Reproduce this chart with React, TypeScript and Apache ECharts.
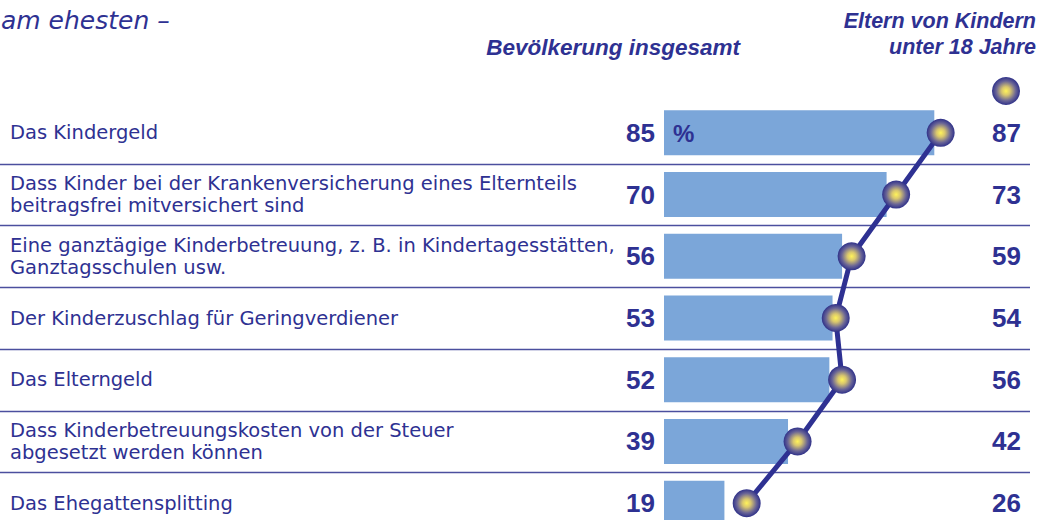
import React, { useEffect, useRef } from "react";
import * as echarts from "echarts";

const categories = [
  "Das Kindergeld",
  "Dass Kinder bei der Krankenversicherung eines Elternteils\nbeitragsfrei mitversichert sind",
  "Eine ganztägige Kinderbetreuung, z. B. in Kindertagesstätten,\nGanztagsschulen usw.",
  "Der Kinderzuschlag für Geringverdiener",
  "Das Elterngeld",
  "Dass Kinderbetreuungskosten von der Steuer\nabgesetzt werden können",
  "Das Ehegattensplitting",
];
const populationValues = [85, 70, 56, 53, 52, 39, 19];
const parentValues = [87, 73, 59, 54, 56, 42, 26];

const headerTotal = "Bevölkerung insgesamt";
const headerParents1 = "Eltern von Kindern";
const headerParents2 = "unter 18 Jahre";
const introText = "am ehesten –";

const NAVY = "#2e3192";
const BAR = "#7ba6d9";
const FONT = "DejaVu Sans";
const NUMFONT = "Liberation Sans";

const GRID_TOP = 102;
const GRID_HEIGHT = 432;
const GRID_LEFT = 664;
const GRID_WIDTH = 318;

function ball() {
  return new echarts.graphic.RadialGradient(0.5, 0.5, 0.5, [
    { offset: 0, color: "#fff35a" },
    { offset: 0.3, color: "#d8c66e" },
    { offset: 0.7, color: "#6a6596" },
    { offset: 1, color: "#2f3189" },
  ]);
}

export default function App() {
  const ref = useRef<HTMLDivElement>(null);
  useEffect(() => {
    if (!ref.current) return;
    document.documentElement.style.overflow = "hidden";
    document.body.style.overflow = "hidden";
    const chart = echarts.init(ref.current, null, { renderer: "svg" });
    const step = GRID_HEIGHT / categories.length;
    const separators: any[] = [];
    for (let k = 1; k < categories.length; k++) {
      const y = Math.round(GRID_TOP + step * k) + 0.5;
      separators.push({
        type: "line",
        shape: { x1: 0, y1: y, x2: 1030, y2: y },
        style: { stroke: "#4b4f9e", lineWidth: 1.3 },
        z: 1,
      });
    }
    chart.setOption({
      animation: false,
      grid: {
        left: GRID_LEFT,
        top: GRID_TOP,
        width: GRID_WIDTH,
        height: GRID_HEIGHT,
        containLabel: false,
        outerBoundsMode: "none",
      },
      xAxis: { type: "value", min: 0, max: 100, show: false },
      yAxis: [
        {
          type: "category",
          data: categories,
          inverse: true,
          axisLine: { show: false },
          axisTick: { show: false },
          splitLine: { show: false },
          axisLabel: {
            align: "left",
            margin: GRID_LEFT - 10,
            fontSize: 19.5,
            lineHeight: 22,
            padding: [8, 0, 0, 0],
            overflow: "none",
            color: NAVY,
            fontFamily: FONT,
          },
        },
        {
          type: "category",
          data: parentValues.map(String),
          inverse: true,
          position: "right",
          axisLine: { show: false },
          axisTick: { show: false },
          splitLine: { show: false },
          axisLabel: {
            align: "right",
            margin: 39,
            fontSize: 26,
            fontWeight: "bold",
            color: NAVY,
            fontFamily: NUMFONT,
          },
        },
      ],
      series: [
        {
          type: "bar",
          data: populationValues,
          yAxisIndex: 0,
          barWidth: 45,
          itemStyle: { color: BAR },
          label: {
            show: true,
            position: "left",
            distance: 9,
            fontSize: 26,
            fontWeight: "bold",
            color: NAVY,
            fontFamily: NUMFONT,
          },
          z: 2,
        },
        {
          type: "line",
          data: parentValues,
          yAxisIndex: 0,
          symbol: "circle",
          symbolSize: 28,
          lineStyle: { color: NAVY, width: 5 },
          itemStyle: { color: ball(), opacity: 1 },
          z: 5,
        },
      ],
      graphic: [
        ...separators,
        {
          type: "text",
          x: 673,
          y: 133,
          style: {
            text: "%",
            fill: NAVY,
            fontSize: 24,
            fontWeight: "bold",
            fontFamily: NUMFONT,
            align: "left",
            verticalAlign: "middle",
          },
          z: 10,
        },
        {
          type: "text",
          x: 1,
          y: 20,
          style: {
            text: introText,
            fill: NAVY,
            fontSize: 25,
            fontStyle: "italic",
            fontFamily: FONT,
            align: "left",
            verticalAlign: "middle",
          },
        },
        {
          type: "text",
          x: 740,
          y: 47,
          style: {
            text: headerTotal,
            fill: NAVY,
            fontSize: 22.5,
            fontStyle: "italic",
            fontWeight: "bold",
            fontFamily: NUMFONT,
            align: "right",
            verticalAlign: "middle",
          },
        },
        {
          type: "text",
          x: 1036,
          y: 21,
          style: {
            text: headerParents1,
            fill: NAVY,
            fontSize: 21.5,
            fontStyle: "italic",
            fontWeight: "bold",
            fontFamily: NUMFONT,
            align: "right",
            verticalAlign: "middle",
          },
        },
        {
          type: "text",
          x: 1036,
          y: 47,
          style: {
            text: headerParents2,
            fill: NAVY,
            fontSize: 21.5,
            fontStyle: "italic",
            fontWeight: "bold",
            fontFamily: NUMFONT,
            align: "right",
            verticalAlign: "middle",
          },
        },
        {
          type: "circle",
          shape: { cx: 1006, cy: 91, r: 14 },
          style: { fill: ball() },
        },
      ],
    });
    return () => chart.dispose();
  }, []);
  return (
    <div
      ref={ref}
      style={{ position: "absolute", left: 0, top: 0, width: 1042, height: 540 }}
    />
  );
}
